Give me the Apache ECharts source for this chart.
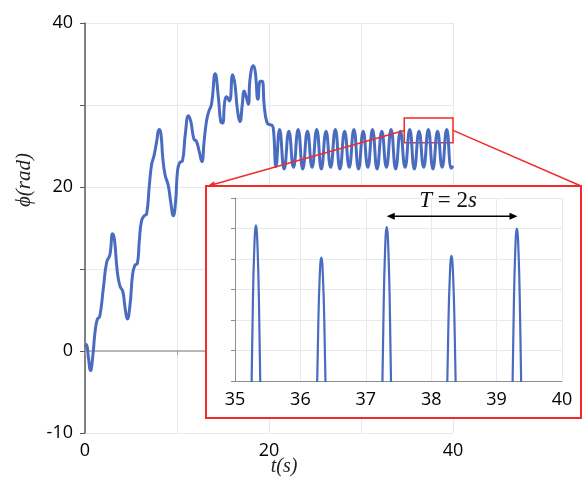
<!DOCTYPE html>
<html><head><meta charset="utf-8">
<script src="https://cdn.jsdelivr.net/npm/echarts@6/dist/echarts.min.js"></script>
<style>html,body{margin:0;padding:0;background:#fff}#c{width:582px;height:484px}</style>
</head><body><div id="c"></div>
<script>
// ---- main curve phi(t) ----
const mainT = [0, 0.15, 0.35, 0.6, 0.85, 1.1, 1.35, 1.6, 2.0, 2.35, 2.7, 3.0, 3.2, 3.5, 3.8, 4.1, 4.35, 4.6, 4.9, 5.15, 5.4, 5.7, 5.9, 6.15, 6.45, 6.7, 7.0, 7.25, 7.5, 7.8, 8.05, 8.25, 8.45, 8.7, 9.05, 9.3, 9.6, 9.85, 10.06, 10.3, 10.6, 10.9, 11.25, 11.5, 11.85, 12.1, 12.4, 12.7, 12.95, 13.2, 13.45, 13.75, 14.15, 14.5, 14.75, 14.95, 15.2, 15.4, 15.7, 16.05, 16.3, 16.56, 16.85, 17.1, 17.3, 17.5, 17.75, 17.95, 18.3, 18.5, 18.8, 19.05, 19.25, 19.5, 19.8, 20.1, 20.35, 20.5, 20.76,
  21.15, 21.65, 22.16, 22.66, 23.17, 23.67, 24.18, 24.68, 25.19, 25.69, 26.2, 26.7, 27.21, 27.71, 28.22, 28.72, 29.23, 29.73, 30.24, 30.74, 31.25, 31.75, 32.26, 32.76, 33.27, 33.77, 34.28, 34.79, 35.3, 35.8, 36.31, 36.81, 37.32, 37.82, 38.32, 38.82, 39.32, 39.82, 40.0];
const mainPhi = [0.5, 0.8, -0.6, -2.4, -0.6, 2.4, 3.9, 4.2, 7.7, 10.8, 11.7, 14.3, 13.6, 9.8, 7.9, 7.3, 5.3, 3.9, 5.7, 9.1, 10.4, 10.7, 13.4, 15.9, 16.5, 16.7, 20.3, 22.8, 23.8, 25.6, 27.0, 26.5, 23.6, 21.5, 20.2, 18.3, 16.5, 18.3, 22.0, 23.0, 23.2, 26.4, 28.7, 28.0, 25.8, 25.6, 24.4, 23.1, 25.6, 28.0, 29.2, 30.1, 33.8, 30.9, 28.0, 27.8, 30.5, 31.0, 30.5, 33.7, 32.5, 29.5, 28.0, 30.1, 31.7, 31.1, 30.1, 33.3, 34.8, 34.1, 30.7, 32.9, 32.9, 29.7, 27.8, 27.6, 27.5, 26.8, 22.5,
  27.0, 22.2, 26.8, 22.4, 27.0, 22.2, 26.8, 22.4, 27.0, 22.2, 26.8, 22.4, 27.0, 22.2, 26.8, 22.4, 27.0, 22.2, 26.8, 22.4, 27.0, 22.2, 26.8, 22.4, 27.0, 22.2, 26.8, 22.4, 27.0, 22.2, 26.8, 22.4, 27.0, 22.2, 26.8, 22.4, 27.0, 22.3, 22.6];

// ---- inset (zoom of 35..40 s, tops of the peaks) ----
const insetT = [35.22, 35.245, 35.27, 35.295, 35.32, 35.345, 35.37, 35.395, 35.42,
  36.22, 36.245, 36.27, 36.295, 36.32, 36.345, 36.37, 36.395, 36.42,
  37.22, 37.245, 37.27, 37.295, 37.32, 37.345, 37.37, 37.395, 37.42,
  38.21, 38.235, 38.26, 38.285, 38.31, 38.335, 38.36, 38.385, 38.41,
  39.21, 39.235, 39.26, 39.285, 39.31, 39.335, 39.36, 39.385, 39.41];
const insetPhi = [25.01, 26.06, 26.82, 27.27, 27.42, 27.27, 26.82, 26.06, 25.01,
  25.14, 26.05, 26.69, 27.08, 27.21, 27.08, 26.69, 26.05, 25.14,
  25.00, 26.05, 26.81, 27.26, 27.41, 27.26, 26.81, 26.05, 25.00,
  25.15, 26.06, 26.70, 27.09, 27.22, 27.09, 26.70, 26.06, 25.15,
  24.99, 26.04, 26.80, 27.25, 27.40, 27.25, 26.80, 26.04, 24.99];

// ---- axes / ticks ----
const mainXLabels = [0, 20, 40];
const mainYLabels = [40, 20, 0, -10];
const insetXLabels = [35, 36, 37, 38, 39, 40];
const zoomBox = [34.7, 25.4, 40, 28.4];       // t0, phi0, t1, phi1
const periodArrow = [37.32, 39.32, 27.48];     // t0, t1, phi

const BLUE = '#4a6cc0', RED = '#f22a2a', GRID = '#e4e9f2';
const numFont = '"Open Sans", "Noto Sans", sans-serif';
const serif = '"Liberation Serif", "DejaVu Serif", serif';

const chart = echarts.init(document.getElementById('c'), null, {renderer: 'canvas'});
const mainData = mainT.map((t, i) => [t, mainPhi[i]]);
const insetData = insetT.map((t, i) => [t, insetPhi[i]]);

chart.setOption({
  animation: false,
  backgroundColor: '#fff',
  grid: [
    {left: 85, top: 23, width: 368, height: 410},
    {left: 235, top: 198, width: 327, height: 183, z: 6}
  ],
  xAxis: [
    {type: 'value', gridIndex: 0, min: 0, max: 40, interval: 10, position: 'bottom',
     axisLine: {show: false, onZero: false}, axisTick: {show: false},
     axisLabel: {margin: 9, color: '#000', fontSize: 18, fontFamily: numFont,
       formatter: v => mainXLabels.includes(v) ? String(v) : ''},
     splitLine: {show: true, lineStyle: {color: GRID, width: 1}}},
    {type: 'value', gridIndex: 0, min: 0, max: 40, interval: 10, position: 'bottom',
     axisLine: {show: true, onZero: true, lineStyle: {color: '#a3a3a3', width: 1.5}},
     axisTick: {show: true, length: 4, lineStyle: {color: '#a3a3a3'}},
     axisLabel: {show: false}, splitLine: {show: false}},
    {type: 'value', gridIndex: 1, min: 35, max: 40, interval: 1, z: 6,
     axisLine: {show: true, onZero: false, lineStyle: {color: '#8e8e8e', width: 1}},
     axisTick: {show: false},
     axisLabel: {margin: 10, color: '#000', fontSize: 18, fontFamily: numFont,
       formatter: v => insetXLabels.includes(v) ? String(v) : ''},
     splitLine: {show: true, lineStyle: {color: GRID, width: 1}}}
  ],
  yAxis: [
    {type: 'value', gridIndex: 0, min: -10, max: 40, interval: 10,
     axisLine: {show: true, onZero: false, lineStyle: {color: '#5a5a5a', width: 1.5}},
     axisTick: {show: true, length: 5, lineStyle: {color: '#5a5a5a'}},
     axisLabel: {margin: 12, color: '#000', fontSize: 18, fontFamily: numFont,
       formatter: v => mainYLabels.includes(v) ? String(v) : ''},
     splitLine: {show: true, lineStyle: {color: GRID, width: 1}}},
    {type: 'value', gridIndex: 1, min: 26.4, max: 27.6, interval: 0.2, z: 6,
     axisLine: {show: true, onZero: false, lineStyle: {color: '#8e8e8e', width: 1}},
     axisTick: {show: true, length: 4, lineStyle: {color: '#8e8e8e'}},
     axisLabel: {show: false},
     splitLine: {show: true, lineStyle: {color: GRID, width: 1}}}
  ],
  series: [
    {type: 'line', xAxisIndex: 0, yAxisIndex: 0, data: mainData, smooth: true,
     showSymbol: false, z: 2, lineStyle: {color: BLUE, width: 3}, itemStyle: {color: BLUE},
     markArea: {silent: true, itemStyle: {color: 'rgba(0,0,0,0)', borderColor: RED, borderWidth: 1.5},
       data: [[{coord: [zoomBox[0], zoomBox[3]]}, {coord: [zoomBox[2], zoomBox[1]]}]]}},
    {type: 'line', xAxisIndex: 2, yAxisIndex: 1, data: insetData, smooth: true,
     showSymbol: false, z: 7, clip: true, lineStyle: {color: BLUE, width: 2.2}, itemStyle: {color: BLUE}}
  ]
});

// decorations (inset frame, connector lines, period arrow, axis titles)
const pL = chart.convertToPixel({xAxisIndex: 0, yAxisIndex: 0}, [zoomBox[0], (zoomBox[1] + zoomBox[3]) / 2]);
const pR = chart.convertToPixel({xAxisIndex: 0, yAxisIndex: 0}, [zoomBox[2], (zoomBox[1] + zoomBox[3]) / 2]);
const a0 = chart.convertToPixel({xAxisIndex: 2, yAxisIndex: 1}, [periodArrow[0], periodArrow[2]]);
const a1 = chart.convertToPixel({xAxisIndex: 2, yAxisIndex: 1}, [periodArrow[1], periodArrow[2]]);
const frame = {x: 206, y: 186, w: 375, h: 232};

function arrowHead(from, to, hl, hw) {
  const dx = to[0] - from[0], dy = to[1] - from[1], len = Math.hypot(dx, dy);
  const ux = dx / len, uy = dy / len;
  return [[to[0], to[1]],
    [to[0] - ux * hl - uy * hw, to[1] - uy * hl + ux * hw],
    [to[0] - ux * hl + uy * hw, to[1] - uy * hl - ux * hw]];
}
const aEnd = [frame.x + 2, frame.y];

chart.setOption({
  graphic: {elements: [
    {type: 'rect', z: 5, silent: true, shape: {x: frame.x, y: frame.y, width: frame.w, height: frame.h},
     style: {fill: '#fff', stroke: RED, lineWidth: 2}},
    {type: 'line', z: 8, silent: true, shape: {x1: pL[0], y1: pL[1], x2: aEnd[0], y2: aEnd[1]},
     style: {stroke: RED, lineWidth: 1.5}},
    {type: 'polygon', z: 8, silent: true, shape: {points: arrowHead(pL, aEnd, 7, 3)}, style: {fill: RED}},
    {type: 'line', z: 8, silent: true, shape: {x1: pR[0], y1: pR[1], x2: frame.x + frame.w, y2: frame.y},
     style: {stroke: RED, lineWidth: 1.5}},
    // period arrow T = 2s
    {type: 'line', z: 9, silent: true, shape: {x1: a0[0] + 4, y1: a0[1], x2: a1[0] - 4, y2: a1[1]},
     style: {stroke: '#000', lineWidth: 1.4}},
    {type: 'polygon', z: 9, silent: true, shape: {points: arrowHead(a1, a0, 8, 3.5)}, style: {fill: '#000'}},
    {type: 'polygon', z: 9, silent: true, shape: {points: arrowHead(a0, a1, 8, 3.5)}, style: {fill: '#000'}},
    {type: 'text', z: 9, silent: true, x: (a0[0] + a1[0]) / 2 - 4, y: a0[1] - 4,
     style: {text: '{i|T}{n| = 2}{i|s}', align: 'center', verticalAlign: 'bottom',
       rich: {i: {font: 'italic 23px ' + serif, fill: '#111'},
              n: {font: '23px ' + serif, fill: '#111'}}}},
    {type: 'text', z: 8, silent: true, x: 284, y: 467,
     style: {text: 't(s)', font: 'italic 20px ' + serif, fill: '#222', align: 'center', verticalAlign: 'middle'}},
    {type: 'text', z: 8, silent: true, x: 24, y: 180, rotation: Math.PI / 2,
     style: {text: 'ϕ(rad)', font: 'italic 21px ' + serif, fill: '#222', align: 'center', verticalAlign: 'middle'}}
  ]}
});
</script></body></html>
